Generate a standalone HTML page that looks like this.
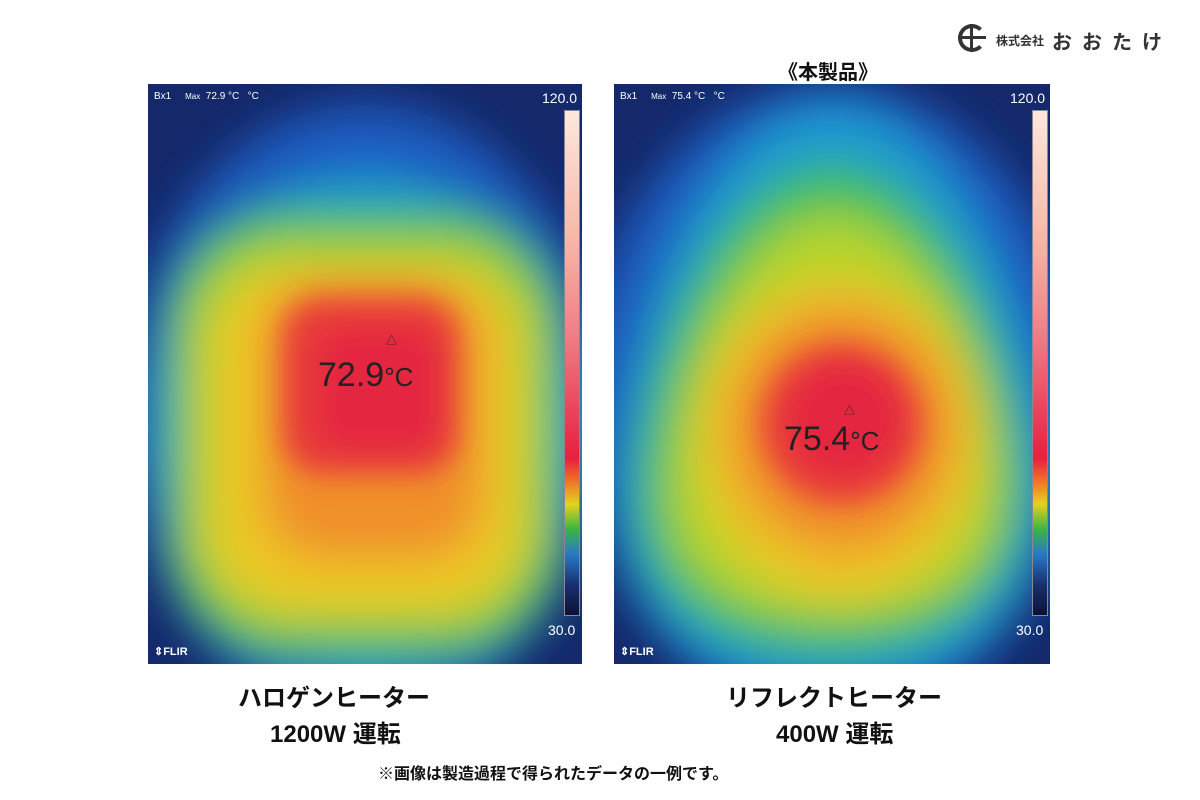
<!DOCTYPE html>
<html><head><meta charset="utf-8"><style>
body{margin:0;width:1200px;height:800px;background:#fff;position:relative;overflow:hidden;font-family:"Liberation Sans","Noto Sans CJK JP",sans-serif}
.t{position:absolute;color:#111;font-weight:bold;white-space:nowrap}
.p{position:absolute;top:84px;width:434px;height:580px;overflow:hidden}
.lab{position:absolute;color:#fff;font-size:10px}
.cb{position:absolute;left:416px;top:26px;width:14px;height:504px;border:1px solid #889;background:linear-gradient(#fde8dc 0%,#f7b8a8 25%,#ef7c85 45%,#e93a55 62%,#e8203f 69%,#f06a2a 73%,#e6d21e 78%,#3ab544 83%,#2a78c6 88%,#18306e 94%,#0c1236 100%)}
</style></head><body>
<div style="position:absolute;left:958px;top:24px;width:28px;height:28px;border:4px solid #333;border-radius:50%;box-sizing:border-box;border-right-color:transparent"></div>
<div style="position:absolute;left:958px;top:36px;width:28px;height:3px;background:#333"></div>
<div style="position:absolute;left:970px;top:24px;width:3px;height:28px;background:#333"></div>
<div class="t" style="left:996px;top:32px;font-size:12px;color:#333">株式会社</div>
<div class="t" style="left:1052px;top:26px;font-size:20px;color:#333;letter-spacing:10px">おおたけ</div>
<div class="t" style="left:778px;top:56px;font-size:20px">《本製品》</div>

<div class="p" style="left:148px">
<svg width="434" height="580"><defs><filter id="b" x="-50%" y="-50%" width="200%" height="200%"><feGaussianBlur stdDeviation="22"/></filter><filter id="b2" x="-50%" y="-50%" width="200%" height="200%"><feGaussianBlur stdDeviation="14"/></filter></defs>
<rect width="434" height="580" fill="#14286a"/>
<g filter="url(#b)">
<ellipse cx="217" cy="330" rx="240" ry="310" fill="#1f5cc0"/>
<ellipse cx="217" cy="340" rx="215" ry="250" fill="#1e9ad0"/>
<rect x="20" y="125" width="395" height="450" rx="120" fill="#3cbf5a"/>
<rect x="40" y="155" width="355" height="390" rx="100" fill="#b5d42a"/>
<rect x="65" y="185" width="305" height="340" rx="80" fill="#ecc728"/>
<rect x="115" y="195" width="220" height="280" rx="60" fill="#f0902c"/>
</g>
<g filter="url(#b2)">
<rect x="135" y="215" width="175" height="175" rx="40" fill="#e83a3a"/>
<rect x="170" y="245" width="120" height="120" rx="30" fill="#e42640"/>
</g>
</svg>
<div class="lab" style="left:6px;top:7px">Bx1 &nbsp;&nbsp;&nbsp; <span style="font-size:8px">Max</span> &nbsp;72.9 °C &nbsp; °C</div>
<div class="lab" style="left:394px;top:6px;font-size:14px">120.0</div>
<div class="lab" style="left:400px;top:538px;font-size:14px">30.0</div>
<div class="lab" style="left:6px;top:561px;font-weight:bold;font-size:11px">⇕FLIR</div>
<div class="cb"></div>
<div style="position:absolute;left:170px;top:272px;font-size:34px;color:#222">72.9<span style="font-size:26px">°C</span></div>
<div style="position:absolute;left:238px;top:248px;font-size:11px;color:#222">△</div>
</div>

<div class="p" style="left:614px;width:436px">
<svg width="436" height="580">
<rect width="436" height="580" fill="#14286a"/>
<g filter="url(#b)">
<ellipse cx="218" cy="320" rx="250" ry="320" fill="#1f5cc0"/>
<path d="M218 20 C360 20 440 300 430 420 C420 560 320 600 218 600 C110 600 10 560 5 420 C0 300 80 20 218 20Z" fill="#1e9ad0"/>
<path d="M218 80 C340 80 420 310 410 420 C400 530 310 570 218 570 C120 570 30 530 25 420 C20 300 100 80 218 80Z" fill="#3cbf5a"/>
<path d="M218 130 C320 130 395 320 385 420 C375 510 300 535 218 535 C130 535 60 500 55 420 C50 320 120 130 218 130Z" fill="#b5d42a"/>
<ellipse cx="225" cy="355" rx="140" ry="160" fill="#ecc728"/>
<ellipse cx="228" cy="345" rx="115" ry="125" fill="#f0902c"/>
</g>
<g filter="url(#b2)">
<ellipse cx="228" cy="340" rx="80" ry="80" fill="#e83a3a"/>
<ellipse cx="230" cy="335" rx="55" ry="55" fill="#e42640"/>
</g>
</svg>
<div class="lab" style="left:6px;top:7px">Bx1 &nbsp;&nbsp;&nbsp; <span style="font-size:8px">Max</span> &nbsp;75.4 °C &nbsp; °C</div>
<div class="lab" style="left:396px;top:6px;font-size:14px">120.0</div>
<div class="lab" style="left:402px;top:538px;font-size:14px">30.0</div>
<div class="lab" style="left:6px;top:561px;font-weight:bold;font-size:11px">⇕FLIR</div>
<div class="cb" style="left:418px"></div>
<div style="position:absolute;left:170px;top:336px;font-size:34px;color:#222">75.4<span style="font-size:26px">°C</span></div>
<div style="position:absolute;left:230px;top:318px;font-size:11px;color:#222">△</div>
</div>

<div class="t" style="left:238px;top:678px;font-size:24px">ハロゲンヒーター</div>
<div class="t" style="left:270px;top:714px;font-size:24px">1200W 運転</div>
<div class="t" style="left:726px;top:678px;font-size:24px">リフレクトヒーター</div>
<div class="t" style="left:776px;top:714px;font-size:24px">400W 運転</div>
<div class="t" style="left:378px;top:760px;font-size:16px">※画像は製造過程で得られたデータの一例です。</div>
</body></html>
